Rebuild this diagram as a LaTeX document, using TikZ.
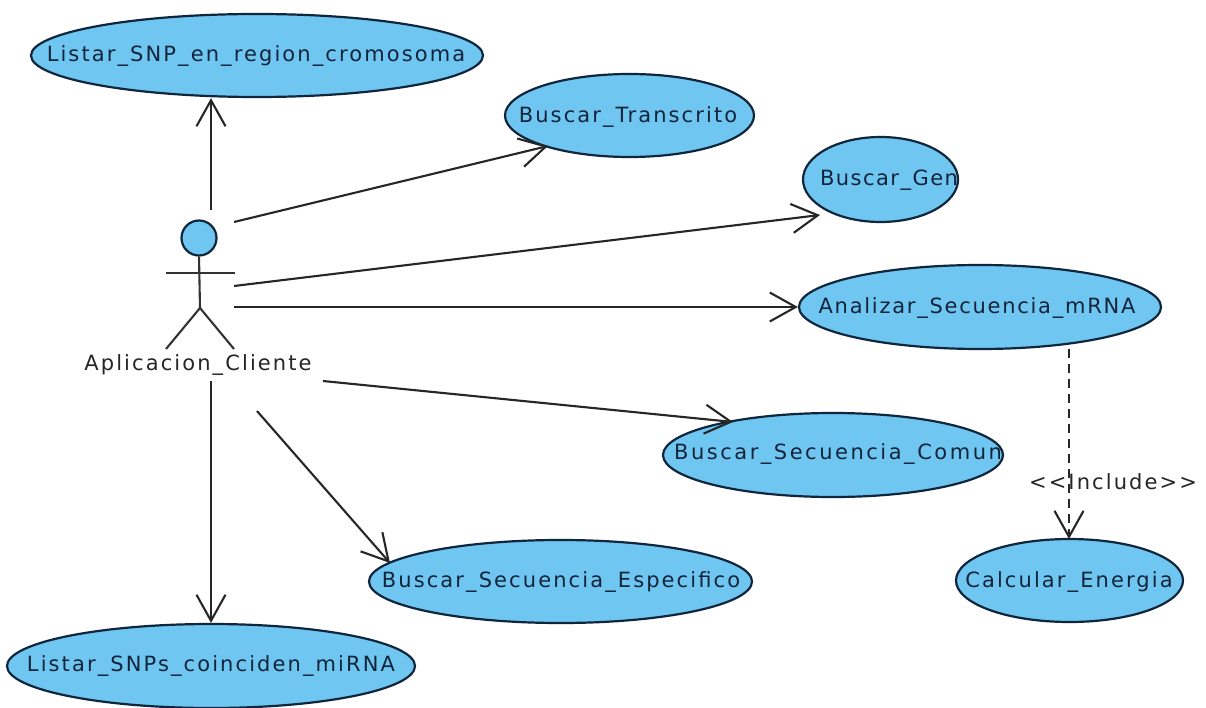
\documentclass[tikz,border=0pt]{standalone}
\usepackage{fontspec}
\setmainfont{DejaVu Sans}[LetterSpace=10]
\usetikzlibrary{arrows.meta,shapes.geometric}
\definecolor{ucfill}{HTML}{6EC6F1}
\definecolor{ucline}{HTML}{10263C}
\definecolor{uctext}{HTML}{14243A}
\tikzset{
  x=1pt,y=-1pt,
  usecase/.style={shape=ellipse,draw=ucline,fill=ucfill,line width=2.2pt,inner sep=0pt},
  uclabel/.style={text=uctext,font=\fontsize{21}{24}\selectfont,inner sep=0pt},
  plainlabel/.style={text=black!85,font=\fontsize{21}{24}\selectfont,inner sep=0pt},
  assoc/.style={draw=black!85,line width=2.1pt,-{Straight Barb[length=26pt,width=29pt,line width=2.1pt]}},
  incl/.style={assoc,dash pattern=on 9pt off 6pt},
  actorline/.style={draw=black!80,line width=2.1pt}
}
\begin{document}
\begin{tikzpicture}
\useasboundingbox (0,0) rectangle (1206,708);
\fill[white] (0,0) rectangle (1206,708);
% use cases
\node[usecase,minimum width=452pt,minimum height=83pt] (listar) at (257,55.5) {};
\node[uclabel] (listart) at (256,56) {Listar\_SNP\_en\_region\_cromosoma};
\node[usecase,minimum width=249pt,minimum height=83pt] (transcrito) at (629.5,115.5) {};
\node[uclabel] (transcritot) at (628,117) {Buscar\_Transcrito};
\node[usecase,minimum width=155pt,minimum height=85pt] (gen) at (880.5,179.5) {};
\node[uclabel] (gent) at (889,180) {\addfontfeature{LetterSpace=7}Buscar\_Gen};
\node[usecase,minimum width=362pt,minimum height=84pt] (analizar) at (980,307) {};
\node[uclabel] (analizart) at (977,308) {\addfontfeature{LetterSpace=8.3}Analizar\_Secuencia\_mRNA};
\node[usecase,minimum width=340pt,minimum height=84pt] (comun) at (833,455) {};
\node[uclabel] (comunt) at (838,454) {\addfontfeature{LetterSpace=12}Buscar\_Secuencia\_Comun};
\node[usecase,minimum width=227pt,minimum height=83pt] (energia) at (1069.5,580.5) {};
\node[uclabel] (energiat) at (1069,582) {Calcular\_Energia};
\node[usecase,minimum width=383pt,minimum height=83pt] (especifico) at (560.5,581.5) {};
\node[uclabel] (especificot) at (561,582) {Buscar\_Secuencia\_Especifico};
\node[usecase,minimum width=408pt,minimum height=84pt] (snps) at (211,666) {};
\node[uclabel] (snpst) at (211,666) {Listar\_SNPs\_coinciden\_miRNA};
% actor
\node[shape=circle,draw=ucline,fill=ucfill,line width=2.2pt,minimum size=35pt,inner sep=0pt] (head) at (199,238) {};
\coordinate (hip) at (200,308);
\coordinate (armL) at (166,273);
\coordinate (armR) at (235,273);
\coordinate (legL) at (166,349);
\coordinate (legR) at (234,349);
\draw[actorline] (head.south) -- (hip);
\draw[actorline] (armL) -- (armR);
\draw[actorline] (legL) -- (hip) -- (legR);
\node[plainlabel] (actorlabel) at (198,365) {Aplicacion\_Cliente};
% connector free ends
\coordinate (a1) at (211,210);
\coordinate (a2) at (234,222);
\coordinate (a3) at (234,286);
\coordinate (a4) at (234,307);
\coordinate (a5) at (323,381);
\coordinate (a6) at (257,411);
\coordinate (a7) at (211,381);
\draw[assoc] (a1) -- (listar.south -| a1);
\draw[assoc] (a2) -- (548,146);
\draw[assoc] (a3) -- (820,215);
\draw[assoc] (a4) -- (analizar.west);
\draw[assoc] (a5) -- (733,422);
\draw[assoc] (a6) -- (390,563);
\draw[assoc] (a7) -- (a7 |- snps.north);
\draw[incl] (1069,349) -- (1069,539);
\node[plainlabel] (incllabel) at (1113,482) {<{}<Include>{}>};
\end{tikzpicture}
\end{document}
